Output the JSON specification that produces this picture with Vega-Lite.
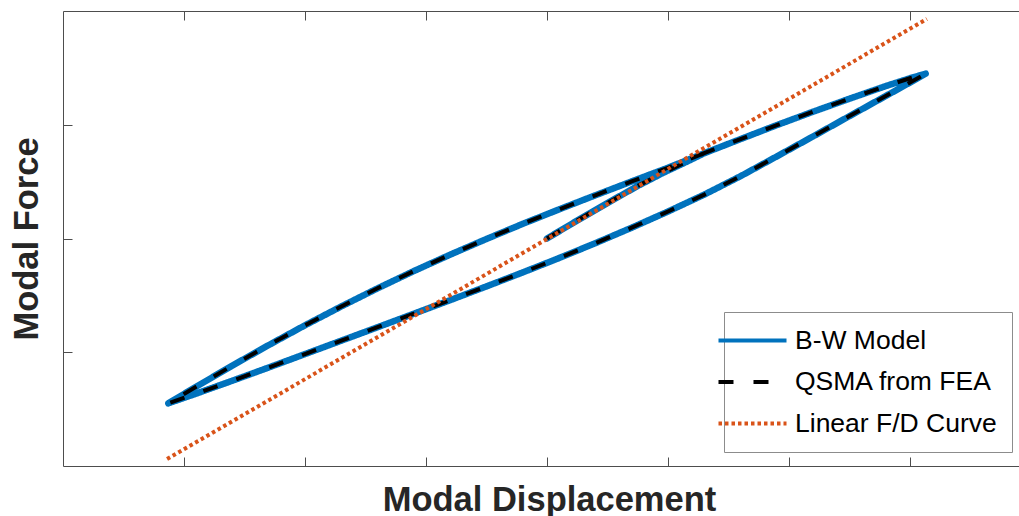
{
  "$schema": "https://vega.github.io/schema/vega-lite/v6.json",
  "width": 956,
  "height": 455,
  "autosize": {"type": "none"},
  "padding": {"left": 63, "top": 11, "right": 0, "bottom": 50},
  "background": "white",
  "config": {
    "view": {"stroke": null},
    "axis": {
      "labels": false,
      "grid": false,
      "tickSize": -9,
      "tickColor": "#4d4d4d",
      "tickWidth": 1,
      "domainColor": "#4d4d4d",
      "domainWidth": 1,
      "titleFont": "Liberation Sans",
      "titleFontSize": 34.5,
      "titleFontWeight": "bold",
      "titleColor": "#262626"
    },
    "legend": {
      "orient": "none",
      "legendX": 661,
      "legendY": 301,
      "title": null,
      "strokeColor": "#8c8c8c",
      "fillColor": "white",
      "padding": 15,
      "symbolType": "M-3,0H3",
      "symbolSize": 514,
      "symbolStrokeWidth": 4,
      "labelFont": "Liberation Sans",
      "labelFontSize": 26.5,
      "labelColor": "#000000",
      "labelOffset": 29,
      "labelLimit": 0,
      "rowPadding": 14.5
    }
  },
  "data": {
    "values": [
      {"s": "B-W Model", "i": 0, "x": 0, "y": 0},
      {"s": "B-W Model", "i": 1, "x": 0.25, "y": 0.158},
      {"s": "B-W Model", "i": 2, "x": 0.5, "y": 0.312},
      {"s": "B-W Model", "i": 3, "x": 0.75, "y": 0.462},
      {"s": "B-W Model", "i": 4, "x": 0.95, "y": 0.572},
      {"s": "B-W Model", "i": 5, "x": 1.15, "y": 0.672},
      {"s": "B-W Model", "i": 6, "x": 1.3, "y": 0.75},
      {"s": "B-W Model", "i": 7, "x": 1.6, "y": 0.874},
      {"s": "B-W Model", "i": 8, "x": 1.9, "y": 0.997},
      {"s": "B-W Model", "i": 9, "x": 2.2, "y": 1.115},
      {"s": "B-W Model", "i": 10, "x": 2.5, "y": 1.229},
      {"s": "B-W Model", "i": 11, "x": 2.8, "y": 1.34},
      {"s": "B-W Model", "i": 12, "x": 3.0, "y": 1.409},
      {"s": "B-W Model", "i": 13, "x": 3.13, "y": 1.449},
      {"s": "B-W Model", "i": 14, "x": 3.0, "y": 1.371},
      {"s": "B-W Model", "i": 15, "x": 2.8, "y": 1.253},
      {"s": "B-W Model", "i": 16, "x": 2.5, "y": 1.076},
      {"s": "B-W Model", "i": 17, "x": 2.2, "y": 0.898},
      {"s": "B-W Model", "i": 18, "x": 1.9, "y": 0.722},
      {"s": "B-W Model", "i": 19, "x": 1.6, "y": 0.548},
      {"s": "B-W Model", "i": 20, "x": 1.3, "y": 0.386},
      {"s": "B-W Model", "i": 21, "x": 1.0, "y": 0.237},
      {"s": "B-W Model", "i": 22, "x": 0.7, "y": 0.095},
      {"s": "B-W Model", "i": 23, "x": 0.4, "y": -0.041},
      {"s": "B-W Model", "i": 24, "x": 0.1, "y": -0.172},
      {"s": "B-W Model", "i": 25, "x": -0.2, "y": -0.298},
      {"s": "B-W Model", "i": 26, "x": -0.5, "y": -0.421},
      {"s": "B-W Model", "i": 27, "x": -0.8, "y": -0.542},
      {"s": "B-W Model", "i": 28, "x": -1.1, "y": -0.661},
      {"s": "B-W Model", "i": 29, "x": -1.4, "y": -0.78},
      {"s": "B-W Model", "i": 30, "x": -1.7, "y": -0.898},
      {"s": "B-W Model", "i": 31, "x": -2.0, "y": -1.016},
      {"s": "B-W Model", "i": 32, "x": -2.3, "y": -1.134},
      {"s": "B-W Model", "i": 33, "x": -2.6, "y": -1.25},
      {"s": "B-W Model", "i": 34, "x": -2.9, "y": -1.364},
      {"s": "B-W Model", "i": 35, "x": -3.13, "y": -1.449},
      {"s": "B-W Model", "i": 36, "x": -2.9, "y": -1.303},
      {"s": "B-W Model", "i": 37, "x": -2.6, "y": -1.117},
      {"s": "B-W Model", "i": 38, "x": -2.3, "y": -0.937},
      {"s": "B-W Model", "i": 39, "x": -2.0, "y": -0.763},
      {"s": "B-W Model", "i": 40, "x": -1.7, "y": -0.597},
      {"s": "B-W Model", "i": 41, "x": -1.4, "y": -0.438},
      {"s": "B-W Model", "i": 42, "x": -1.1, "y": -0.286},
      {"s": "B-W Model", "i": 43, "x": -0.8, "y": -0.142},
      {"s": "B-W Model", "i": 44, "x": -0.5, "y": -0.004},
      {"s": "B-W Model", "i": 45, "x": -0.2, "y": 0.129},
      {"s": "B-W Model", "i": 46, "x": 0.1, "y": 0.256},
      {"s": "B-W Model", "i": 47, "x": 0.4, "y": 0.38},
      {"s": "B-W Model", "i": 48, "x": 0.7, "y": 0.502},
      {"s": "B-W Model", "i": 49, "x": 1.0, "y": 0.622},
      {"s": "B-W Model", "i": 50, "x": 1.3, "y": 0.75},
      {"s": "QSMA from FEA", "i": 0, "x": 0, "y": 0},
      {"s": "QSMA from FEA", "i": 1, "x": 0.25, "y": 0.158},
      {"s": "QSMA from FEA", "i": 2, "x": 0.5, "y": 0.312},
      {"s": "QSMA from FEA", "i": 3, "x": 0.75, "y": 0.462},
      {"s": "QSMA from FEA", "i": 4, "x": 0.95, "y": 0.572},
      {"s": "QSMA from FEA", "i": 5, "x": 1.15, "y": 0.672},
      {"s": "QSMA from FEA", "i": 6, "x": 1.3, "y": 0.75},
      {"s": "QSMA from FEA", "i": 7, "x": 1.6, "y": 0.874},
      {"s": "QSMA from FEA", "i": 8, "x": 1.9, "y": 0.997},
      {"s": "QSMA from FEA", "i": 9, "x": 2.2, "y": 1.115},
      {"s": "QSMA from FEA", "i": 10, "x": 2.5, "y": 1.229},
      {"s": "QSMA from FEA", "i": 11, "x": 2.8, "y": 1.34},
      {"s": "QSMA from FEA", "i": 12, "x": 3.0, "y": 1.409},
      {"s": "QSMA from FEA", "i": 13, "x": 3.13, "y": 1.449},
      {"s": "QSMA from FEA", "i": 14, "x": 3.0, "y": 1.371},
      {"s": "QSMA from FEA", "i": 15, "x": 2.8, "y": 1.253},
      {"s": "QSMA from FEA", "i": 16, "x": 2.5, "y": 1.076},
      {"s": "QSMA from FEA", "i": 17, "x": 2.2, "y": 0.898},
      {"s": "QSMA from FEA", "i": 18, "x": 1.9, "y": 0.722},
      {"s": "QSMA from FEA", "i": 19, "x": 1.6, "y": 0.548},
      {"s": "QSMA from FEA", "i": 20, "x": 1.3, "y": 0.386},
      {"s": "QSMA from FEA", "i": 21, "x": 1.0, "y": 0.237},
      {"s": "QSMA from FEA", "i": 22, "x": 0.7, "y": 0.095},
      {"s": "QSMA from FEA", "i": 23, "x": 0.4, "y": -0.041},
      {"s": "QSMA from FEA", "i": 24, "x": 0.1, "y": -0.172},
      {"s": "QSMA from FEA", "i": 25, "x": -0.2, "y": -0.298},
      {"s": "QSMA from FEA", "i": 26, "x": -0.5, "y": -0.421},
      {"s": "QSMA from FEA", "i": 27, "x": -0.8, "y": -0.542},
      {"s": "QSMA from FEA", "i": 28, "x": -1.1, "y": -0.661},
      {"s": "QSMA from FEA", "i": 29, "x": -1.4, "y": -0.78},
      {"s": "QSMA from FEA", "i": 30, "x": -1.7, "y": -0.898},
      {"s": "QSMA from FEA", "i": 31, "x": -2.0, "y": -1.016},
      {"s": "QSMA from FEA", "i": 32, "x": -2.3, "y": -1.134},
      {"s": "QSMA from FEA", "i": 33, "x": -2.6, "y": -1.25},
      {"s": "QSMA from FEA", "i": 34, "x": -2.9, "y": -1.364},
      {"s": "QSMA from FEA", "i": 35, "x": -3.13, "y": -1.449},
      {"s": "QSMA from FEA", "i": 36, "x": -2.9, "y": -1.303},
      {"s": "QSMA from FEA", "i": 37, "x": -2.6, "y": -1.117},
      {"s": "QSMA from FEA", "i": 38, "x": -2.3, "y": -0.937},
      {"s": "QSMA from FEA", "i": 39, "x": -2.0, "y": -0.763},
      {"s": "QSMA from FEA", "i": 40, "x": -1.7, "y": -0.597},
      {"s": "QSMA from FEA", "i": 41, "x": -1.4, "y": -0.438},
      {"s": "QSMA from FEA", "i": 42, "x": -1.1, "y": -0.286},
      {"s": "QSMA from FEA", "i": 43, "x": -0.8, "y": -0.142},
      {"s": "QSMA from FEA", "i": 44, "x": -0.5, "y": -0.004},
      {"s": "QSMA from FEA", "i": 45, "x": -0.2, "y": 0.129},
      {"s": "QSMA from FEA", "i": 46, "x": 0.1, "y": 0.256},
      {"s": "QSMA from FEA", "i": 47, "x": 0.4, "y": 0.38},
      {"s": "QSMA from FEA", "i": 48, "x": 0.7, "y": 0.502},
      {"s": "QSMA from FEA", "i": 49, "x": 1.0, "y": 0.622},
      {"s": "QSMA from FEA", "i": 50, "x": 1.3, "y": 0.75},
      {"s": "Linear F/D Curve", "i": 0, "x": -3.14, "y": -1.939},
      {"s": "Linear F/D Curve", "i": 1, "x": 3.14, "y": 1.93}
    ]
  },
  "layer": [
    {
      "transform": [{"filter": "datum.s === 'B-W Model'"}],
      "mark": {"type": "line", "strokeWidth": 6.5, "strokeCap": "round", "strokeJoin": "round"},
      "encoding": {
        "x": {"field": "x", "type": "quantitative", "scale": {"domain": [-4, 3.901], "nice": false, "zero": false},
              "axis": {"orient": "bottom", "values": [-3, -2, -1, 0, 1, 2, 3], "title": "Modal Displacement", "titlePadding": 17, "titleX": 486}},
        "y": {"field": "y", "type": "quantitative", "scale": {"domain": [-2, 2], "nice": false, "zero": false},
              "axis": {"orient": "left", "values": [-1, 0, 1], "title": "Modal Force", "titlePadding": 18}},
        "color": {"field": "s", "type": "nominal",
                  "scale": {"domain": ["B-W Model", "QSMA from FEA", "Linear F/D Curve"], "range": ["#0072BD", "#000000", "#D95319"]}},
        "strokeDash": {"field": "s", "type": "nominal",
                  "scale": {"domain": ["B-W Model", "QSMA from FEA", "Linear F/D Curve"], "range": [[1, 0], [15, 20], [3.5, 3]]}},
        "order": {"field": "i", "type": "quantitative"}
      }
    },
    {
      "transform": [{"filter": "datum.s === 'QSMA from FEA'"}],
      "mark": {"type": "line", "strokeWidth": 4, "strokeJoin": "round"},
      "encoding": {
        "x": {"field": "x", "type": "quantitative",
              "axis": {"orient": "top", "values": [-3, -2, -1, 0, 1, 2, 3], "title": null}},
        "y": {"field": "y", "type": "quantitative",
              "axis": {"orient": "left", "values": [-1, 0, 1], "title": "Modal Force", "titlePadding": 18}},
        "color": {"field": "s", "type": "nominal"},
        "strokeDash": {"field": "s", "type": "nominal"},
        "order": {"field": "i", "type": "quantitative"}
      }
    },
    {
      "transform": [{"filter": "datum.s === 'Linear F/D Curve'"}],
      "mark": {"type": "line", "strokeWidth": 4},
      "encoding": {
        "x": {"field": "x", "type": "quantitative", "axis": null},
        "y": {"field": "y", "type": "quantitative",
              "axis": {"orient": "left", "values": [-1, 0, 1], "title": "Modal Force", "titlePadding": 18}},
        "color": {"field": "s", "type": "nominal"},
        "strokeDash": {"field": "s", "type": "nominal"},
        "order": {"field": "i", "type": "quantitative"}
      }
    }
  ],
  "resolve": {"axis": {"x": "independent"}}
}
